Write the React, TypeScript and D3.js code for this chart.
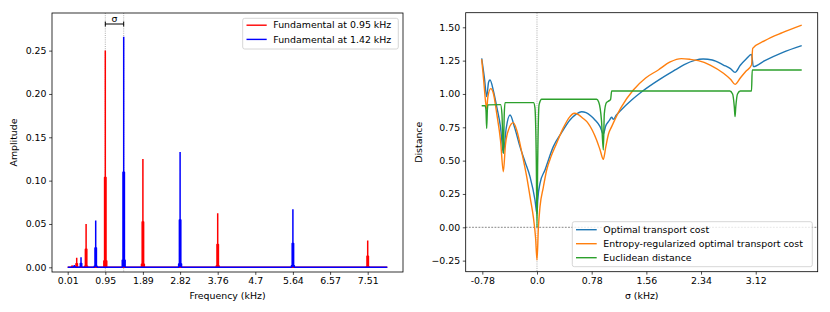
import React, { useEffect, useRef } from 'react';
import * as d3 from 'd3';

// left panel: spectra
const freqTicks = [0.01, 0.95, 1.89, 2.82, 3.76, 4.7, 5.64, 6.57, 7.51];
const ampTicks = [0, 0.05, 0.1, 0.15, 0.2, 0.25];

const redFreq = [0.12, 0.235, 0.47, 0.95, 1.89, 3.76, 7.51];
const redPeak = [0.0025, 0.011, 0.05, 0.25, 0.125, 0.0625, 0.031];
const redShoulder = [0.001, 0.0045, 0.021, 0.104, 0.0526, 0.0265, 0.013];
const redBase = [0.0001, 0.0004, 0.0015, 0.0075, 0.0037, 0.0019, 0.0009];

const blueFreq = [0.175, 0.343, 0.71, 1.41, 2.82, 5.64];
const bluePeak = [0.0028, 0.0115, 0.054, 0.266, 0.133, 0.067];
const blueShoulder = [0.0012, 0.0048, 0.0226, 0.11, 0.055, 0.0277];
const blueBase = [0.0001, 0.0004, 0.0016, 0.0084, 0.004, 0.002];

const fundamentals = [0.95, 1.41];

// right panel: distances vs sigma
const sigmaTicks = [-0.78, 0, 0.78, 1.56, 2.34, 3.12];
const sigmaTickLabels = ['-0.78', '0.0', '0.78', '1.56', '2.34', '3.12'];
const distTicks = [-0.25, 0, 0.25, 0.5, 0.75, 1.0, 1.25, 1.5];

const otSigma = [-0.789, -0.75, -0.718, -0.69, -0.67, -0.62, -0.575, -0.52, -0.48, -0.44, -0.385, -0.32, -0.243, -0.17, -0.1, -0.029, 0, 0.01, 0.043, 0.114, 0.233, 0.35, 0.47, 0.55, 0.637, 0.7, 0.77, 0.827, 0.9, 0.946, 0.98, 1.03, 1.065, 1.09, 1.13, 1.2, 1.35, 1.494, 1.75, 1.97, 2.1, 2.25, 2.37, 2.5, 2.66, 2.76, 2.825, 2.9, 2.98, 3.06, 3.086, 3.25, 3.5, 3.776];
const otValue = [1.267, 1.12, 0.98, 1.09, 1.105, 1.02, 0.905, 0.75, 0.555, 0.74, 0.842, 0.75, 0.605, 0.49, 0.38, 0.205, 0.1, 0.2, 0.33, 0.43, 0.605, 0.71, 0.805, 0.845, 0.867, 0.86, 0.835, 0.805, 0.755, 0.7, 0.76, 0.8, 0.825, 0.81, 0.84, 0.88, 0.955, 1.017, 1.11, 1.18, 1.22, 1.252, 1.262, 1.255, 1.217, 1.19, 1.162, 1.215, 1.26, 1.297, 1.205, 1.25, 1.31, 1.362];

const ertSigma = [-0.789, -0.76, -0.735, -0.718, -0.7, -0.66, -0.62, -0.575, -0.52, -0.48, -0.45, -0.4, -0.338, -0.29, -0.22, -0.147, -0.09, -0.053, -0.02, 0, 0.02, 0.043, 0.09, 0.138, 0.2, 0.28, 0.37, 0.47, 0.53, 0.59, 0.65, 0.73, 0.85, 0.9, 0.946, 0.98, 1.02, 1.065, 1.2, 1.374, 1.55, 1.73, 1.9, 2.06, 2.18, 2.3, 2.47, 2.66, 2.76, 2.825, 2.9, 2.98, 3.06, 3.077, 3.25, 3.5, 3.776];
const ertValue = [1.26, 1.1, 0.95, 0.89, 0.98, 1.04, 1.0, 0.855, 0.65, 0.417, 0.62, 0.74, 0.785, 0.73, 0.57, 0.38, 0.2, 0.08, -0.08, -0.245, 0.0, 0.155, 0.3, 0.43, 0.53, 0.63, 0.74, 0.83, 0.855, 0.845, 0.82, 0.78, 0.655, 0.58, 0.51, 0.6, 0.7, 0.755, 0.9, 1.03, 1.12, 1.18, 1.24, 1.265, 1.26, 1.25, 1.217, 1.155, 1.11, 1.072, 1.12, 1.17, 1.217, 1.342, 1.4, 1.46, 1.517];

const eucSigma = [-0.789, -0.74, -0.728, -0.718, -0.708, -0.7, -0.52, -0.5, -0.48, -0.467, -0.456, -0.05, -0.03, -0.01, 0, 0.01, 0.03, 0.067, 0.85, 0.88, 0.92, 0.946, 0.96, 0.99, 1.03, 1.05, 1.065, 2.75, 2.79, 2.815, 2.825, 2.835, 2.86, 2.9, 3.06, 3.07, 3.776];
const eucValue = [0.912, 0.912, 0.88, 0.742, 0.88, 0.918, 0.92, 0.85, 0.555, 0.85, 0.935, 0.935, 0.9, 0.5, 0.0, 0.5, 0.92, 0.96, 0.96, 0.94, 0.8, 0.58, 0.85, 0.935, 0.95, 0.96, 1.022, 1.022, 1.0, 0.9, 0.83, 0.9, 1.0, 1.022, 1.022, 1.18, 1.18];

const FONT = 'DejaVu Sans, sans-serif';
const FS = 9.4;

// stepped outline of each peak: base, shoulder, single-bin peak
function spectrum(freq, peak, shoulder, base, bin) {
  const pts = [[0.01, 0]];
  freq.forEach((f, i) => {
    pts.push(
      [f - 2 * bin, 0], [f - 2 * bin, base[i]], [f - bin, base[i]], [f - bin, shoulder[i]],
      [f, shoulder[i]], [f, peak[i]], [f, shoulder[i]],
      [f + bin, shoulder[i]], [f + bin, base[i]], [f + 2 * bin, base[i]], [f + 2 * bin, 0]);
  });
  pts.push([8.0, 0]);
  return pts;
}

function App() {
  const svgRef = useRef();

  useEffect(() => {
    const svg = d3.select(svgRef.current);
    svg.selectAll('*').remove();

    const styleAxis = (g) => {
      g.select('.domain').remove();
      g.selectAll('line').attr('stroke', '#000').attr('stroke-width', 0.7);
      g.selectAll('text').attr('font-family', FONT).attr('font-size', FS).attr('fill', '#000');
    };

    // ---------- left panel ----------
    const L = { x0: 52, x1: 403, y0: 13, y1: 272 };
    const x = d3.scaleLinear().domain([-0.3825, 8.3925]).range([L.x0, L.x1]);
    const y = d3.scaleLinear().domain([-0.0054, 0.2934]).range([L.y1, L.y0]);

    const left = svg.append('g');

    fundamentals.forEach(f => {
      left.append('line')
        .attr('x1', x(f)).attr('x2', x(f)).attr('y1', L.y0).attr('y2', L.y1)
        .attr('stroke', '#999').attr('stroke-width', 0.8).attr('stroke-dasharray', '1,1.2');
    });

    const line = d3.line().x(d => x(d[0])).y(d => y(d[1]));
    const bin = 0.018;
    [[redFreq, redPeak, redShoulder, redBase, '#ff0000'], [blueFreq, bluePeak, blueShoulder, blueBase, '#0000ff']]
      .forEach(([f, p, s, b, c]) => {
        left.append('path')
          .attr('d', line(spectrum(f, p, s, b, bin)))
          .attr('fill', c).attr('stroke', c).attr('stroke-width', 1.5).attr('stroke-linejoin', 'bevel');
      });

    // sigma bracket
    const by = 24;
    left.append('line').attr('x1', x(fundamentals[0])).attr('x2', x(fundamentals[1]))
      .attr('y1', by).attr('y2', by).attr('stroke', '#000').attr('stroke-width', 1);
    fundamentals.forEach(f => {
      left.append('line').attr('x1', x(f)).attr('x2', x(f)).attr('y1', by - 2.5).attr('y2', by + 2.5)
        .attr('stroke', '#000').attr('stroke-width', 1);
    });
    left.append('text').attr('x', (x(fundamentals[0]) + x(fundamentals[1])) / 2).attr('y', by - 2)
      .attr('text-anchor', 'middle').attr('font-family', FONT).attr('font-size', FS).text('σ');

    left.append('g').attr('transform', `translate(0,${L.y1})`)
      .call(d3.axisBottom(x).tickValues(freqTicks).tickFormat(d => String(d)).tickSize(2.9).tickPadding(2.6))
      .call(styleAxis);
    left.append('g').attr('transform', `translate(${L.x0},0)`)
      .call(d3.axisLeft(y).tickValues(ampTicks).tickFormat(d3.format('.2f')).tickSize(2.9).tickPadding(2.6))
      .call(styleAxis);

    left.append('rect').attr('x', L.x0).attr('y', L.y0).attr('width', L.x1 - L.x0).attr('height', L.y1 - L.y0)
      .attr('fill', 'none').attr('stroke', '#000').attr('stroke-width', 0.8);

    left.append('text').attr('transform', `translate(17,${(L.y0 + L.y1) / 2}) rotate(-90)`)
      .attr('text-anchor', 'middle').attr('font-family', FONT).attr('font-size', FS).text('Amplitude');
    left.append('text').attr('x', (L.x0 + L.x1) / 2).attr('y', 299)
      .attr('text-anchor', 'middle').attr('font-family', FONT).attr('font-size', FS).text('Frequency (kHz)');

    const legL = left.append('g');
    legL.append('rect').attr('x', 242.7).attr('y', 18.3).attr('width', 155.6).attr('height', 30.7).attr('rx', 2)
      .attr('fill', '#fff').attr('fill-opacity', 0.8).attr('stroke', '#ccc').attr('stroke-width', 0.8);
    [['Fundamental at 0.95 kHz', '#ff0000'], ['Fundamental at 1.42 kHz', '#0000ff']].forEach(([t, c], i) => {
      const yy = 25.2 + i * 14.2;
      legL.append('line').attr('x1', 246.5).attr('x2', 266.7).attr('y1', yy).attr('y2', yy)
        .attr('stroke', c).attr('stroke-width', 1.4);
      legL.append('text').attr('x', 273.3).attr('y', yy).attr('dy', '0.35em')
        .attr('font-family', FONT).attr('font-size', FS).text(t);
    });

    // ---------- right panel ----------
    const R = { x0: 465.7, x1: 817.7, y0: 12.7, y1: 271.7 };
    const sx = d3.scaleLinear().domain([-1.017, 4.004]).range([R.x0, R.x1]);
    const sy = d3.scaleLinear().domain([-0.333, 1.6095]).range([R.y1, R.y0]);
    const right = svg.append('g');

    right.append('line').attr('x1', sx(0)).attr('x2', sx(0)).attr('y1', R.y0).attr('y2', R.y1)
      .attr('stroke', '#999').attr('stroke-width', 0.8).attr('stroke-dasharray', '1,1.2');
    right.append('line').attr('x1', R.x0).attr('x2', R.x1).attr('y1', sy(0)).attr('y2', sy(0))
      .attr('stroke', '#333').attr('stroke-width', 0.6).attr('stroke-dasharray', '1.8,1.4');

    const curve = d3.line().x(d => sx(d[0])).y(d => sy(d[1])).curve(d3.curveMonotoneX);
    const series = [
      [otSigma, otValue, '#1f77b4', 'Optimal transport cost'],
      [ertSigma, ertValue, '#ff7f0e', 'Entropy-regularized optimal transport cost'],
      [eucSigma, eucValue, '#2ca02c', 'Euclidean distance'],
    ];
    series.forEach(([xs, vs, c]) => {
      right.append('path').attr('d', curve(xs.map((s, i) => [s, vs[i]])))
        .attr('fill', 'none').attr('stroke', c).attr('stroke-width', 1.4);
    });

    right.append('g').attr('transform', `translate(0,${R.y1})`)
      .call(d3.axisBottom(sx).tickValues(sigmaTicks).tickFormat((d, i) => sigmaTickLabels[i]).tickSize(2.9).tickPadding(2.6))
      .call(styleAxis);
    right.append('g').attr('transform', `translate(${R.x0},0)`)
      .call(d3.axisLeft(sy).tickValues(distTicks).tickFormat(d3.format('.2f')).tickSize(2.9).tickPadding(2.6))
      .call(styleAxis);

    right.append('rect').attr('x', R.x0).attr('y', R.y0).attr('width', R.x1 - R.x0).attr('height', R.y1 - R.y0)
      .attr('fill', 'none').attr('stroke', '#000').attr('stroke-width', 0.8);

    right.append('text').attr('transform', `translate(422,${(R.y0 + R.y1) / 2}) rotate(-90)`)
      .attr('text-anchor', 'middle').attr('font-family', FONT).attr('font-size', FS).text('Distance');
    right.append('text').attr('x', (R.x0 + R.x1) / 2).attr('y', 299)
      .attr('text-anchor', 'middle').attr('font-family', FONT).attr('font-size', FS).text('σ (kHz)');

    const legR = right.append('g');
    legR.append('rect').attr('x', 572.3).attr('y', 221.7).attr('width', 240).attr('height', 45).attr('rx', 2)
      .attr('fill', '#fff').attr('fill-opacity', 0.8).attr('stroke', '#ccc').attr('stroke-width', 0.8);
    series.forEach(([, , c, t], i) => {
      const yy = 229.7 + i * 14;
      legR.append('line').attr('x1', 576).attr('x2', 596.7).attr('y1', yy).attr('y2', yy)
        .attr('stroke', c).attr('stroke-width', 1.4);
      legR.append('text').attr('x', 603.3).attr('y', yy).attr('dy', '0.35em')
        .attr('font-family', FONT).attr('font-size', FS).text(t);
    });
  }, []);

  return (
    <svg ref={svgRef} width={830} height={312}
      style={{ position: 'absolute', left: 0, top: 0, background: '#fff' }} />
  );
}

export default App;
